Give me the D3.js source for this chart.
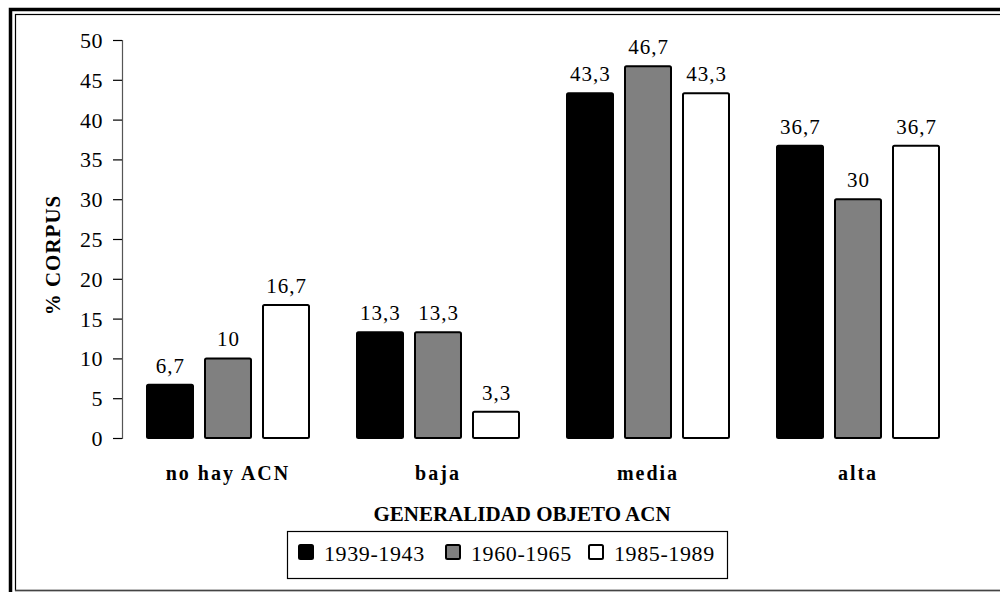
<!DOCTYPE html>
<html><head><meta charset="utf-8">
<script src="https://cdn.jsdelivr.net/npm/d3@7/dist/d3.min.js"></script>
<style>
body{margin:0;background:#fff;}
svg text{font-family:"Liberation Serif","DejaVu Serif",serif;}
</style></head>
<body>
<svg id="c" width="1000" height="592"></svg>
<script>
const categories = ["no hay ACN", "baja", "media", "alta"];
const seriesNames = ["1939-1943", "1960-1965", "1985-1989"];
const s1939 = [6.7, 13.3, 43.3, 36.7];
const s1960 = [10, 13.3, 46.7, 30];
const s1985 = [16.7, 3.3, 43.3, 36.7];
const yTicks = [0, 5, 10, 15, 20, 25, 30, 35, 40, 45, 50];
const fills = ["#000000", "#808080", "#ffffff"];

const series = [s1939, s1960, s1985];
const svg = d3.select("#c");

// frame
svg.append("rect").attr("x",10.5).attr("y",9.5).attr("width",1010).attr("height",610)
  .attr("fill","none").attr("stroke","#000").attr("stroke-width",3.5);
svg.append("rect").attr("x",15.5).attr("y",14.5).attr("width",1000).attr("height",576)
  .attr("fill","none").attr("stroke","#000").attr("stroke-width",1.2);
svg.append("line").attr("x1",15).attr("x2",1000).attr("y1",590.5).attr("y2",590.5)
  .attr("stroke","#444").attr("stroke-width",1.5);

const x0 = d3.scaleBand().domain(categories).range([123, 963]).paddingInner(0).paddingOuter(0);
const x1 = d3.scaleBand().domain(seriesNames).range([24, 210-24]).paddingInner(0.207).paddingOuter(0);
const y = d3.scaleLinear().domain([0, 50]).range([438, 40]);

// y axis
const ya = svg.append("g").attr("transform","translate(122,0)")
  .call(d3.axisLeft(y).tickValues(yTicks).tickSize(9).tickPadding(10));
ya.attr("font-family", null);
ya.select(".domain").attr("stroke","#555").attr("stroke-width",1.2);
ya.selectAll(".tick line").attr("stroke","#000").attr("stroke-width",1.2);
ya.selectAll(".tick text").attr("font-size",22).attr("dy","0.34em")
  .attr("fill","#000").style("letter-spacing","0.5px");

// bars
const groups = svg.append("g").selectAll("g").data(categories).join("g")
  .attr("transform", d => `translate(${x0(d)},0)`);
groups.each(function(cat, ci){
  const g = d3.select(this);
  seriesNames.forEach((sn, si) => {
    const v = series[si][ci];
    g.append("rect")
      .attr("x", x1(sn)).attr("width", x1.bandwidth())
      .attr("y", y(v)).attr("height", y(0) - y(v))
      .attr("rx", 1.5)
      .attr("fill", fills[si]).attr("stroke", "#000").attr("stroke-width", 2);
    g.append("text")
      .attr("x", x1(sn) + x1.bandwidth()/2 + 0.5)
      .attr("y", y(v) - 12)
      .attr("text-anchor","middle").attr("font-size",21)
      .style("letter-spacing","1px")
      .text(String(v).replace(".", ","));
  });
  g.append("text").attr("x", x0.bandwidth()/2).attr("y", 480)
    .attr("text-anchor","middle").attr("font-size",20).attr("font-weight","bold")
    .style("letter-spacing","2px").text(cat);
});

// axis titles
svg.append("text").attr("x", 522).attr("y", 521).attr("text-anchor","middle")
  .attr("font-size",21).attr("font-weight","bold")
  .text("GENERALIDAD OBJETO ACN");
svg.append("text").attr("transform","translate(60,255) rotate(-90)").attr("text-anchor","middle")
  .attr("font-size",21).attr("font-weight","bold").style("letter-spacing","1px")
  .text("% CORPUS");

// legend
const lg = svg.append("g");
lg.append("rect").attr("x",287.5).attr("y",531.5).attr("width",440).attr("height",47)
  .attr("fill","#fff").attr("stroke","#000").attr("stroke-width",1.2);
const legX = [298, 445, 588];
seriesNames.forEach((sn, i) => {
  lg.append("rect").attr("x", legX[i]+1).attr("y", 545).attr("width", 14).attr("height", 14)
    .attr("rx",1.5).attr("fill", fills[i]).attr("stroke","#000").attr("stroke-width",2);
  lg.append("text").attr("x", legX[i] + 26).attr("y", 561).attr("font-size",22)
    .style("letter-spacing","0.6px").text(sn);
});
</script>
</body></html>
